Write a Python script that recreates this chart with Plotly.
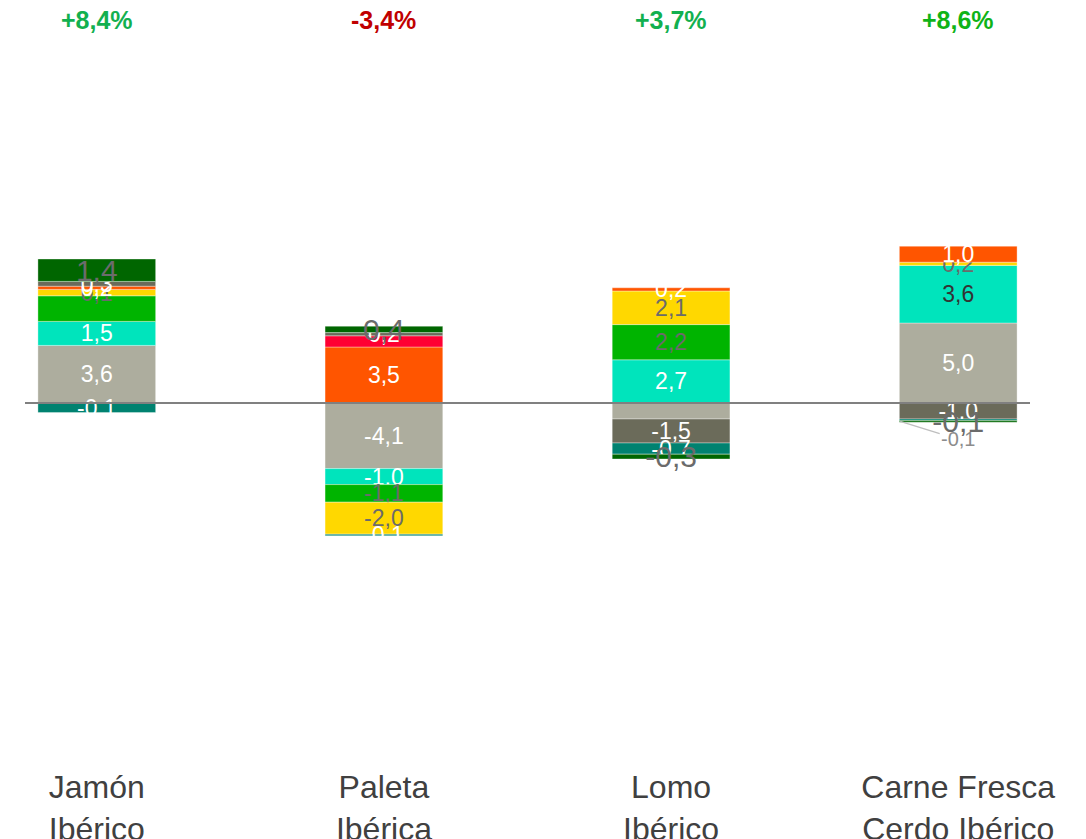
import plotly.graph_objects as go

categorias = ["Jamón<br>Ibérico", "Paleta<br>Ibérica", "Lomo<br>Ibérico", "Carne Fresca<br>Cerdo Ibérico"]
totales = ["+8,4%", "-3,4%", "+3,7%", "+8,6%"]
colores_totales = ["#12B04F", "#C00000", "#12B04F", "#0FB317"]

gris = [3.6, -4.1, -1.0, 5.0]
cian = [1.5, -1.0, 2.7, 3.6]
verde = [1.6, -1.1, 2.2, None]
amarillo = [0.4, -2.0, 2.1, 0.2]
naranja = [0.2, 3.5, 0.2, 1.0]
rojo = [None, 0.7, None, None]
gris_oscuro = [0.3, 0.2, -1.5, -1.0]
verde_azulado = [-0.6, -0.1, -0.7, -0.1]
verde_oscuro = [1.4, 0.4, -0.3, -0.1]

et_gris = ["3,6", "-4,1", "", "5,0"]
et_cian = ["1,5", "-1,0", "2,7", "3,6"]
et_verde = ["", "-1,1", "2,2", ""]
et_amarillo = ["0,1", "-2,0", "2,1", "0,2"]
et_naranja = ["0,2", "3,5", "0,2", "1,0"]
et_rojo = ["", "", "", ""]
et_gris_oscuro = ["0,3", "0,2", "-1,5", "-1,0"]
et_verde_azulado = ["-0,1", "-0,1", "-0,7", ""]
et_verde_oscuro = ["1,4", "0,4", "-0,3", "-0,1"]
etiqueta_exterior = "-0,1"

W, G, D = "#FFFFFF", "#6B6B6B", "#333333"
series = [
    (gris, et_gris, "#ADAD9E", [W, W, W, W], 23),
    (cian, et_cian, "#00E4BC", [W, W, W, D], 23),
    (verde, et_verde, "#00B400", [G, G, G, G], 23),
    (amarillo, et_amarillo, "#FFD800", [G, G, G, G], 23),
    (naranja, et_naranja, "#FF5500", [W, W, W, W], 23),
    (rojo, et_rojo, "#FF0033", [W, W, W, W], 23),
    (gris_oscuro, et_gris_oscuro, "#6B6B5A", [W, W, W, W], 23),
    (verde_azulado, et_verde_azulado, "#008270", [W, W, W, W], 23),
    (verde_oscuro, et_verde_oscuro, "#006600", [G, G, G, G], 30),
]

fig = go.Figure()
for vals, labs, col, tcols, fs in series:
    fig.add_trace(go.Bar(
        x=categorias, y=vals, text=labs, width=0.41,
        marker=dict(color=col, line=dict(color="rgba(255,255,255,0.35)", width=1)),
        textposition="inside", insidetextanchor="middle", textangle=0,
        constraintext="none", cliponaxis=False,
        textfont=dict(color=tcols, size=fs, family="Liberation Sans, Arial"),
        hoverinfo="skip", showlegend=False,
    ))

for i, (t, c) in enumerate(zip(totales, colores_totales)):
    fig.add_annotation(x=categorias[i], y=1, xref="x", yref="paper", text="<b>" + t + "</b>",
                       showarrow=False, yanchor="middle", yshift=25,
                       font=dict(size=25, color=c, family="Liberation Sans Narrow, Arial Narrow, Liberation Sans"))

fig.add_annotation(x=categorias[3], y=-1.15, xref="x", yref="y", text=etiqueta_exterior,
                   showarrow=True, arrowhead=0, arrowwidth=1.5, arrowcolor="#BFBFBF",
                   ax=58, ay=18, xshift=-58,
                   font=dict(size=20, color="#8C8C8C", family="Liberation Sans, Arial"))

fig.add_shape(type="line", xref="paper", x0=0, x1=1, yref="y", y0=0, y1=0,
              line=dict(color="#808080", width=2), layer="above")

fig.update_layout(
    width=1086, height=839, barmode="relative",
    margin=dict(l=17, r=64, t=37, b=82),
    paper_bgcolor="white", plot_bgcolor="white",
    xaxis=dict(range=[-0.25, 3.25], showgrid=False, zeroline=False, showline=False,
               ticks="", automargin=False,
               tickfont=dict(size=32, color="#404040", family="Liberation Sans, Arial")),
    yaxis=dict(range=[-22.625, 22.375], showgrid=False, zeroline=False,
               showticklabels=False, showline=False, automargin=False),
)

fig.write_html("out.html")
